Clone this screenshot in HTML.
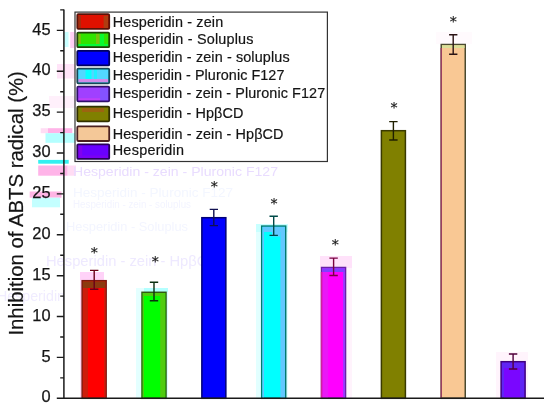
<!DOCTYPE html>
<html><head><meta charset="utf-8"><title>Inhibition of ABTS radical</title>
<style>
html,body{margin:0;padding:0;background:#fff;}
svg{display:block;}
text{font-family:"Liberation Sans",Arial,sans-serif;fill:#151515;stroke:#151515;stroke-width:0.2px;}
text.g{stroke:none;}
text.st{font-family:"DejaVu Sans",sans-serif;stroke-width:0.15px;}
</style></head><body>
<svg width="550" height="411" viewBox="0 0 550 411">
<rect width="550" height="411" fill="#ffffff"/>

<rect x="64.5" y="32" width="4" height="15" fill="#c8ffff"/>
<rect x="70.2" y="32" width="4.3" height="16" fill="#ffd0f4"/>
<rect x="57" y="64" width="18.5" height="14.5" fill="#ffe4f8"/>
<rect x="49" y="96" width="26" height="12" fill="#fff0fb"/>
<rect x="40.7" y="128.2" width="7.3" height="5" fill="#ffdcf4"/>
<rect x="48" y="128.2" width="24.3" height="5" fill="#ffb4e8"/>
<rect x="45.5" y="133.2" width="30.5" height="9.6" fill="#b4ffff"/>
<rect x="38.2" y="159.9" width="30.5" height="3.8" fill="#34f0f0"/>
<rect x="38.2" y="165.5" width="29.5" height="10.2" fill="#ffb4e8"/>
<rect x="67.7" y="165.5" width="8.3" height="10.2" fill="#ffdcf4"/>
<rect x="29.7" y="191.5" width="31.8" height="6.2" fill="#ffb4e4"/>
<rect x="32" y="197.7" width="28" height="9.6" fill="#c4ffff"/>
<rect x="80" y="272" width="24" height="8" fill="#ffd2f8"/>
<rect x="80" y="280" width="2" height="118" fill="#ffd8f4"/>
<rect x="144" y="288" width="24" height="4" fill="#b4ffff"/>
<rect x="136" y="288" width="8" height="110" fill="#e4ffff"/>
<rect x="166" y="292" width="2" height="106" fill="#d8ffff"/>
<rect x="256" y="224" width="32" height="8" fill="#c8ffff"/>
<rect x="256" y="232" width="32" height="166" fill="#e2ffff"/>
<rect x="320" y="256" width="32" height="12" fill="#ffe2fa"/>
<rect x="320" y="268" width="32" height="130" fill="#fff3fc"/>
<rect x="496" y="352" width="32" height="46" fill="#fff4fc"/>
<rect x="436" y="32" width="36" height="12" fill="#fffafd"/>
<text class="g" x="73" y="176.4" font-size="13.6" textLength="205" lengthAdjust="spacingAndGlyphs" style="fill:#e9dcff">Hesperidin - zein - Pluronic F127</text>
<text class="g" x="73" y="197" font-size="12" textLength="160" lengthAdjust="spacingAndGlyphs" style="fill:#f3f6ff">Hesperidin - Pluronic F127</text>
<text class="g" x="73" y="207.5" font-size="10" textLength="118" lengthAdjust="spacingAndGlyphs" style="fill:#f3f4ff">Hesperidin - zein - soluplus</text>
<text class="g" x="66" y="231" font-size="12" textLength="122" lengthAdjust="spacingAndGlyphs" style="fill:#f3f5ff">Hesperidin - Soluplus</text>
<text class="g" x="46" y="266" font-size="14.5" textLength="172" lengthAdjust="spacingAndGlyphs" style="fill:#eee9ff">Hesperidin - zein - HpβCD</text>
<text class="g" x="-3" y="301" font-size="14.5" textLength="68" lengthAdjust="spacingAndGlyphs" style="fill:#f0ecff">Hesperidin</text>
<rect x="82.15" y="280.7" width="24.0" height="117.6" fill="#ff0000" stroke="#7a1a10" stroke-width="1.5"/>
<rect x="82.85" y="288" width="5.1" height="109.6" fill="#cc1c0c"/>
<rect x="104" y="288" width="1.5" height="109.6" fill="#cc1c0c"/>
<rect x="82.85" y="281.4" width="22.6" height="6.6" fill="#8b3a0f"/>
<path d="M94.2 270.4V289.3M90.0 270.4H98.4M90.0 289.3H98.4" stroke="#6a0018" stroke-width="1.4" fill="none"/>
<rect x="142.00" y="292.3" width="24.0" height="106.0" fill="#00ff00" stroke="#2f5a10" stroke-width="1.5"/>
<rect x="142.70" y="293.0" width="22.6" height="3.0" fill="#50cc10"/>
<rect x="160.2" y="296" width="5.1" height="101.6" fill="#50cc10"/>
<rect x="142.70" y="296" width="1.3" height="101.6" fill="#50cc10"/>
<path d="M154.0 282.3V300.7M149.8 282.3H158.2M149.8 300.7H158.2" stroke="#0a3010" stroke-width="1.4" fill="none"/>
<rect x="201.85" y="217.7" width="24.0" height="180.6" fill="#0000ff" stroke="#000078" stroke-width="1.5"/>
<path d="M213.8 209.4V225.6M209.7 209.4H218.0M209.7 225.6H218.0" stroke="#101050" stroke-width="1.4" fill="none"/>
<rect x="261.70" y="226.1" width="24.0" height="172.2" fill="#00ffff" stroke="#007a70" stroke-width="1.5"/>
<rect x="262.40" y="226.8" width="22.6" height="5.2" fill="#62c8ff"/>
<rect x="272" y="232" width="8.4" height="4.5" fill="#62c8ff"/>
<rect x="280.4" y="232" width="4.6" height="165.6" fill="#62c8ff"/>
<rect x="262.40" y="232" width="1.6" height="165.6" fill="#62c8ff"/>
<path d="M273.7 216.2V235.4M269.5 216.2H277.9M269.5 235.4H277.9" stroke="#004a48" stroke-width="1.4" fill="none"/>
<rect x="321.55" y="267.5" width="24.0" height="130.8" fill="#ff00ff" stroke="#6a20a8" stroke-width="1.5"/>
<rect x="322.25" y="272" width="5.8" height="125.6" fill="#ea18f6"/>
<rect x="343.2" y="272" width="1.7" height="125.6" fill="#9040ff"/>
<rect x="322.25" y="268.2" width="22.6" height="3.8" fill="#8040ff"/>
<path d="M321.55 272V398.3" stroke="#d0209c" stroke-width="1.5"/>
<path d="M333.6 258.1V275.5M329.4 258.1H337.8M329.4 275.5H337.8" stroke="#7a0040" stroke-width="1.4" fill="none"/>
<rect x="381.40" y="130.7" width="24.0" height="267.6" fill="#808000" stroke="#3a3a00" stroke-width="1.5"/>
<path d="M393.4 121.6V140.0M389.2 121.6H397.6M389.2 140.0H397.6" stroke="#202000" stroke-width="1.4" fill="none"/>
<rect x="441.25" y="44.5" width="24.0" height="353.8" fill="#f9c894" stroke="#4a4a30" stroke-width="1.5"/>
<rect x="441.95" y="45.2" width="22.6" height="2.8" fill="#dadf98"/>
<path d="M441.25 48V398.3" stroke="#9a4060" stroke-width="1.5"/>
<path d="M453.2 34.8V54.2M449.1 34.8H457.4M449.1 54.2H457.4" stroke="#2a1414" stroke-width="1.4" fill="none"/>
<rect x="501.10" y="361.7" width="24.0" height="36.6" fill="#6024f4" stroke="#400080" stroke-width="1.5"/>
<rect x="504" y="368" width="16" height="29.6" fill="#7a06ff"/>
<path d="M513.1 354.0V369.0M508.9 354.0H517.3M508.9 369.0H517.3" stroke="#50003a" stroke-width="1.4" fill="none"/>
<path d="M63.9 9.6V399.0M63.2 398.3H544" stroke="#1a1a1a" stroke-width="1.5" fill="none"/>
<path d="M56.8 398.3H63.9M56.8 357.4H63.9M56.8 316.5H63.9M56.8 275.7H63.9M56.8 234.8H63.9M56.8 193.9H63.9M56.8 153.0H63.9M56.8 112.1H63.9M56.8 71.3H63.9M56.8 30.4H63.9M60.2 377.9H63.9M60.2 337.0H63.9M60.2 296.1H63.9M60.2 255.2H63.9M60.2 214.3H63.9M60.2 173.5H63.9M60.2 132.6H63.9M60.2 91.7H63.9M60.2 50.8H63.9M60.2 9.9H63.9" stroke="#1a1a1a" stroke-width="1.4" fill="none"/>
<text x="50.6" y="402.4" font-size="16.4" text-anchor="end" style="stroke-width:0.25px">0</text>
<text x="50.6" y="361.5" font-size="16.4" text-anchor="end" style="stroke-width:0.25px">5</text>
<text x="50.6" y="320.6" font-size="16.4" text-anchor="end" style="stroke-width:0.25px">10</text>
<text x="50.6" y="279.8" font-size="16.4" text-anchor="end" style="stroke-width:0.25px">15</text>
<text x="50.6" y="238.9" font-size="16.4" text-anchor="end" style="stroke-width:0.25px">20</text>
<text x="50.6" y="198.0" font-size="16.4" text-anchor="end" style="stroke-width:0.25px">25</text>
<text x="50.6" y="157.1" font-size="16.4" text-anchor="end" style="stroke-width:0.25px">30</text>
<text x="50.6" y="116.2" font-size="16.4" text-anchor="end" style="stroke-width:0.25px">35</text>
<text x="50.6" y="75.4" font-size="16.4" text-anchor="end" style="stroke-width:0.25px">40</text>
<text x="50.6" y="34.5" font-size="16.4" text-anchor="end" style="stroke-width:0.25px">45</text>
<text transform="translate(23.0 335.6) rotate(-90)" font-size="19.6" textLength="264.5" lengthAdjust="spacingAndGlyphs">Inhibition of ABTS radical (%)</text>
<text x="94.2" y="257.0" font-size="14.2" text-anchor="middle" class="st">*</text>
<text x="155.2" y="266.4" font-size="14.2" text-anchor="middle" class="st">*</text>
<text x="214.4" y="191.4" font-size="14.2" text-anchor="middle" class="st">*</text>
<text x="274.0" y="208.4" font-size="14.2" text-anchor="middle" class="st">*</text>
<text x="335.2" y="249.0" font-size="14.2" text-anchor="middle" class="st">*</text>
<text x="394.0" y="112.4" font-size="14.2" text-anchor="middle" class="st">*</text>
<text x="453.4" y="25.8" font-size="14.2" text-anchor="middle" class="st">*</text>
<rect x="75.0" y="12.1" width="252.4" height="149.4" fill="#ffffff" stroke="#333333" stroke-width="1.2"/>
<rect x="77.3" y="14.2" width="31.9" height="14.6" fill="#e01000"/>
<rect x="78.2" y="15.7" width="2.6" height="12.6" fill="#a03010"/>
<rect x="103.6" y="15.7" width="4.7" height="12.6" fill="#b03c10"/>
<rect x="77.3" y="14.2" width="31.9" height="14.6" rx="1" fill="none" stroke="#5a1208" stroke-width="1.8"/>
<text x="112.7" y="26.5" font-size="14.4" textLength="110.5" lengthAdjust="spacing">Hesperidin - zein</text>
<rect x="77.3" y="32.6" width="31.9" height="14.6" fill="#30e400"/>
<rect x="78.2" y="44.0" width="30.1" height="2.6" fill="#06f838"/>
<rect x="99.5" y="34" width="4.5" height="12.6" fill="#08fa30"/>
<rect x="78.2" y="34" width="2.5" height="10" fill="#8ab810"/>
<rect x="96" y="34" width="3.5" height="10" fill="#7ac010"/>
<rect x="77.3" y="32.6" width="31.9" height="14.6" rx="1" fill="none" stroke="#1f4208" stroke-width="1.8"/>
<text x="112.7" y="43.7" font-size="14.4" textLength="140.8" lengthAdjust="spacing">Hesperidin - Soluplus</text>
<rect x="77.3" y="50.8" width="31.9" height="14.6" fill="#0000ff"/>
<rect x="77.3" y="50.8" width="31.9" height="14.6" rx="1" fill="none" stroke="#000060" stroke-width="1.8"/>
<text x="112.7" y="61.7" font-size="14.4" textLength="176.9" lengthAdjust="spacing">Hesperidin - zein - soluplus</text>
<rect x="77.3" y="68.7" width="31.9" height="14.6" fill="#30e8ff"/>
<rect x="78.2" y="70" width="30.1" height="9.6" fill="#52d8ff"/>
<rect x="85.5" y="70" width="6" height="9.6" fill="#08ffff"/>
<rect x="94" y="70" width="3" height="9.6" fill="#20f0ff"/>
<rect x="78.2" y="79.0" width="30.1" height="3.4" fill="#d08ce8"/>
<rect x="77.3" y="68.7" width="31.9" height="14.6" rx="1" fill="none" stroke="#184858" stroke-width="1.8"/>
<text x="112.7" y="79.7" font-size="14.4" textLength="171.7" lengthAdjust="spacing">Hesperidin - Pluronic F127</text>
<rect x="77.3" y="86.7" width="31.9" height="14.6" fill="#a040ff"/>
<rect x="100" y="88" width="8.3" height="13.2" fill="#8452ff"/>
<rect x="78.2" y="98.2" width="22" height="3" fill="#c040f8"/>
<rect x="77.3" y="86.7" width="31.9" height="14.6" rx="1" fill="none" stroke="#30106a" stroke-width="1.8"/>
<text x="112.7" y="97.7" font-size="14.4" textLength="212.5" lengthAdjust="spacing">Hesperidin - zein - Pluronic F127</text>
<rect x="77.3" y="106.7" width="31.9" height="14.6" fill="#808000"/>
<rect x="82" y="108" width="22" height="4" fill="#9c6410"/>
<rect x="77.3" y="106.7" width="31.9" height="14.6" rx="1" fill="none" stroke="#303000" stroke-width="1.8"/>
<text x="112.7" y="117.6" font-size="14.4" textLength="130.6" lengthAdjust="spacing">Hesperidin - HpβCD</text>
<rect x="77.3" y="126.4" width="31.9" height="14.6" fill="#f4c898"/>
<rect x="77.3" y="126.4" width="31.9" height="14.6" rx="1" fill="none" stroke="#4a2020" stroke-width="1.8"/>
<text x="112.7" y="139.2" font-size="14.4" textLength="170.8" lengthAdjust="spacing">Hesperidin - zein - HpβCD</text>
<rect x="77.3" y="144.3" width="31.9" height="14.6" fill="#6a00ff"/>
<rect x="78.2" y="145.7" width="4" height="13.2" fill="#8000f0"/>
<rect x="78.2" y="155.5" width="30.1" height="3.4" fill="#7a00f4"/>
<rect x="77.3" y="144.3" width="31.9" height="14.6" rx="1" fill="none" stroke="#28005a" stroke-width="1.8"/>
<text x="112.7" y="155.4" font-size="14.4" textLength="71.3" lengthAdjust="spacing">Hesperidin</text>
</svg>
</body></html>
